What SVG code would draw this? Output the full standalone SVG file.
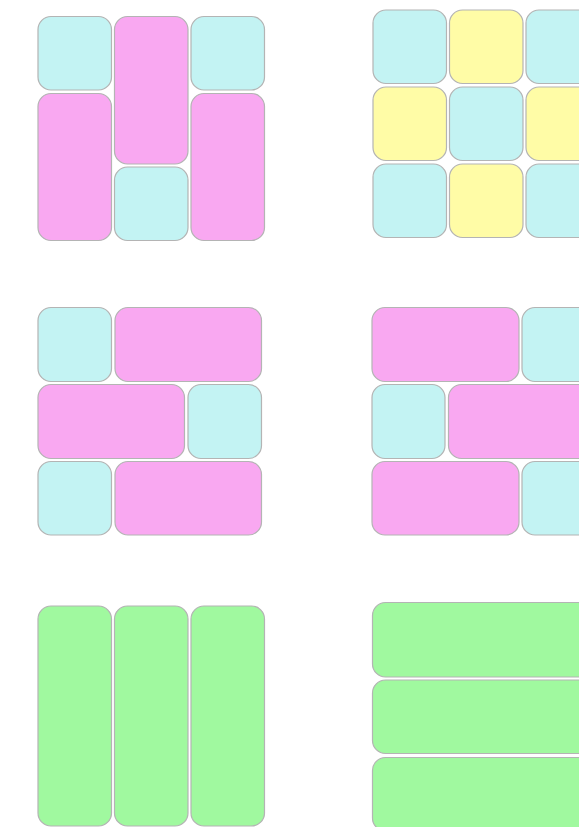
<svg xmlns="http://www.w3.org/2000/svg" width="579" height="827" viewBox="0 0 579 827">
<style>
rect{stroke:#b4b4b4;stroke-width:1.2}
.c{fill:#c3f3f3}.p{fill:#f9a8f1}.y{fill:#fffca6}.g{fill:#a0f99f}
</style>
<rect width="579" height="827" fill="#fff" style="stroke:none"/>
<g id="panel1">
<rect class="c" x="38" y="16.5" width="73.5" height="73.5" rx="13"/>
<rect class="p" x="114.5" y="16.5" width="73.5" height="147.5" rx="13"/>
<rect class="c" x="191" y="16.5" width="73.5" height="73.5" rx="13"/>
<rect class="p" x="38" y="93.5" width="73.5" height="147" rx="13"/>
<rect class="c" x="114.5" y="167" width="73.5" height="73.5" rx="13"/>
<rect class="p" x="191" y="93.5" width="73.5" height="147" rx="13"/>
</g>
<g id="panel2">
<rect class="c" x="373" y="10" width="73.5" height="73.5" rx="13"/>
<rect class="y" x="449.5" y="10" width="73.5" height="73.5" rx="13"/>
<rect class="c" x="526" y="10" width="73.5" height="73.5" rx="13"/>
<rect class="y" x="373" y="87" width="73.5" height="73.5" rx="13"/>
<rect class="c" x="449.5" y="87" width="73.5" height="73.5" rx="13"/>
<rect class="y" x="526" y="87" width="73.5" height="73.5" rx="13"/>
<rect class="c" x="373" y="164" width="73.5" height="73.5" rx="13"/>
<rect class="y" x="449.5" y="164" width="73.5" height="73.5" rx="13"/>
<rect class="c" x="526" y="164" width="73.5" height="73.5" rx="13"/>
</g>
<g id="panel3">
<rect class="c" x="38" y="307.5" width="73.5" height="74" rx="13"/>
<rect class="p" x="115" y="307.5" width="146.5" height="74" rx="13"/>
<rect class="p" x="38" y="384.5" width="146.5" height="74" rx="13"/>
<rect class="c" x="188" y="384.5" width="73.5" height="74" rx="13"/>
<rect class="c" x="38" y="461.5" width="73.5" height="73.5" rx="13"/>
<rect class="p" x="115" y="461.5" width="146.5" height="73.5" rx="13"/>
</g>
<g id="panel4">
<rect class="p" x="372" y="307.5" width="147" height="74" rx="13"/>
<rect class="c" x="522" y="307.5" width="73.5" height="74" rx="13"/>
<rect class="c" x="372" y="384.5" width="73" height="74" rx="13"/>
<rect class="p" x="448.5" y="384.5" width="147" height="74" rx="13"/>
<rect class="p" x="372" y="461.5" width="147" height="73.5" rx="13"/>
<rect class="c" x="522" y="461.5" width="73.5" height="73.5" rx="13"/>
</g>
<g id="panel5">
<rect class="g" x="38" y="606" width="73.5" height="220" rx="13"/>
<rect class="g" x="114.5" y="606" width="73.5" height="220" rx="13"/>
<rect class="g" x="191" y="606" width="73.5" height="220" rx="13"/>
</g>
<g id="panel6">
<rect class="g" x="372.5" y="602.5" width="230" height="74.5" rx="13"/>
<rect class="g" x="372.5" y="680" width="230" height="73.5" rx="13"/>
<rect class="g" x="372.5" y="757.5" width="230" height="73.5" rx="13"/>
</g>
<g id="connectors"/>
</svg>
